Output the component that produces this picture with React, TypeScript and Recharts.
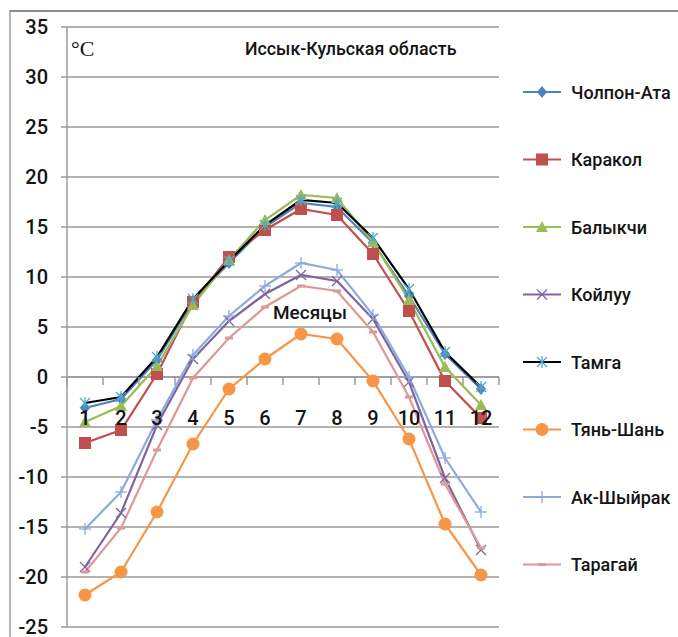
import { LineChart, Line, XAxis, YAxis, CartesianGrid, ReferenceLine, ReferenceDot } from 'recharts';

const months = [1, 2, 3, 4, 5, 6, 7, 8, 9, 10, 11, 12];
const yTicks = [-25, -20, -15, -10, -5, 0, 5, 10, 15, 20, 25, 30, 35];

const cholponAta = [-3.1, -2.2, 1.7, 7.6, 11.4, 15.0, 17.4, 17.0, 13.4, 8.1, 2.3, -1.2];
const karakol = [-6.6, -5.3, 0.3, 7.5, 12.0, 14.7, 16.8, 16.2, 12.3, 6.6, -0.4, -4.1];
const balykchi = [-4.5, -2.9, 1.1, 7.2, 11.7, 15.7, 18.2, 17.9, 13.5, 7.7, 1.0, -2.8];
const koyluu = [-19.0, -13.6, -4.8, 1.8, 5.6, 8.3, 10.2, 9.6, 5.8, -0.5, -10.1, -17.3];
const tamga = [-2.6, -2.0, 2.0, 7.8, 11.6, 15.2, 17.7, 17.4, 13.9, 8.8, 2.5, -1.0];
const tianShan = [-21.8, -19.5, -13.5, -6.7, -1.2, 1.8, 4.3, 3.8, -0.4, -6.2, -14.7, -19.8];
const akShyirak = [-15.2, -11.5, -4.3, 2.2, 6.1, 9.1, 11.4, 10.7, 6.2, 0.0, -8.1, -13.5];
const taragai = [-19.5, -15.1, -7.3, -0.1, 3.9, 7.0, 9.1, 8.6, 4.5, -2.0, -10.7, -17.1];

const seriesList = [
  { key: 'cholponAta', name: 'Чолпон-Ата', values: cholponAta, line: '#4F81BD', mark: '#4F81BD', shape: 'diamond' },
  { key: 'karakol', name: 'Каракол', values: karakol, line: '#C0504D', mark: '#C0504D', shape: 'square' },
  { key: 'balykchi', name: 'Балыкчи', values: balykchi, line: '#9BBB59', mark: '#9BBB59', shape: 'triangle' },
  { key: 'koyluu', name: 'Койлуу', values: koyluu, line: '#8064A2', mark: '#8064A2', shape: 'x' },
  { key: 'tamga', name: 'Тамга', values: tamga, line: '#000000', mark: '#4BACC6', shape: 'star' },
  { key: 'tianShan', name: 'Тянь-Шань', values: tianShan, line: '#F79646', mark: '#F79646', shape: 'circle' },
  { key: 'akShyirak', name: 'Ак-Шыйрак', values: akShyirak, line: '#8FAADC', mark: '#8FAADC', shape: 'plus' },
  { key: 'taragai', name: 'Тарагай', values: taragai, line: '#DE9896', mark: '#DE9896', shape: 'dash' },
];

const data = months.map((m, i) => {
  const row: Record<string, number> = { month: m };
  seriesList.forEach((s) => {
    row[s.key] = s.values[i];
  });
  return row;
});

const W = 678;
const H = 637;
const MARGIN = { top: 27, right: 179, bottom: 10, left: 0 };
const Y_AXIS_W = 67;
const Y_MIN = -25;
const Y_MAX = 35;
const PLOT_W = W - MARGIN.right - MARGIN.left - Y_AXIS_W;
const BAND = PLOT_W / months.length;

const FONT = 'Roboto, "Noto Sans", sans-serif';
const GRID = '#9a9a9a';
const INK = '#141414';

function Marker({ shape, cx, cy, color }: { shape: string; cx: number; cy: number; color: string }) {
  switch (shape) {
    case 'diamond':
      return <polygon points={`${cx},${cy - 6} ${cx + 5},${cy} ${cx},${cy + 6} ${cx - 5},${cy}`} fill={color} />;
    case 'square':
      return <rect x={cx - 6} y={cy - 6} width={12} height={12} fill={color} />;
    case 'triangle':
      return <polygon points={`${cx},${cy - 6} ${cx + 6},${cy + 5} ${cx - 6},${cy + 5}`} fill={color} />;
    case 'x':
      return (
        <g stroke={color} strokeWidth={1.3}>
          <line x1={cx - 5} y1={cy - 5} x2={cx + 5} y2={cy + 5} />
          <line x1={cx - 5} y1={cy + 5} x2={cx + 5} y2={cy - 5} />
        </g>
      );
    case 'star':
      return (
        <g stroke={color} strokeWidth={1.3}>
          <line x1={cx - 5} y1={cy - 5} x2={cx + 5} y2={cy + 5} />
          <line x1={cx - 5} y1={cy + 5} x2={cx + 5} y2={cy - 5} />
          <line x1={cx} y1={cy - 6} x2={cx} y2={cy + 6} />
        </g>
      );
    case 'circle':
      return <circle cx={cx} cy={cy} r={6.5} fill={color} />;
    case 'plus':
      return (
        <g stroke={color} strokeWidth={1.3}>
          <line x1={cx - 6} y1={cy} x2={cx + 6} y2={cy} />
          <line x1={cx} y1={cy - 6} x2={cx} y2={cy + 6} />
        </g>
      );
    default:
      return <rect x={cx - 4} y={cy - 1.5} width={8} height={3} fill={color} />;
  }
}

const makeDot = (shape: string, color: string, name: string) => (props: any) => {
  const { cx, cy, index } = props;
  if (cx == null || cy == null) return <g key={`${name}-${index}`} />;
  return (
    <g key={`${name}-${index}`}>
      <Marker shape={shape} cx={cx} cy={cy} color={color} />
    </g>
  );
};

// category axis crossing at 0: tick marks between months and the month number below
const makeMonthMark = (month: number, last: boolean) => (props: any) => {
  const { cx, cy } = props;
  if (cx == null || cy == null) return <g />;
  return (
    <g>
      <line x1={cx - BAND / 2} y1={cy} x2={cx - BAND / 2} y2={cy + 8} stroke={GRID} strokeWidth={1.5} />
      {last && <line x1={cx + BAND / 2} y1={cy} x2={cx + BAND / 2} y2={cy + 8} stroke={GRID} strokeWidth={1.5} />}
      <text x={cx} y={cy + 41} textAnchor="middle" dominantBaseline="central" fontSize={20} fontFamily={FONT} fontWeight={500} fill={INK}>
        {month}
      </text>
    </g>
  );
};

export default function App() {
  return (
    <div style={{ position: 'absolute', left: 0, top: 0, width: W, height: H, background: '#fff', overflow: 'hidden' }}>
      <div
        style={{
          position: 'absolute',
          left: 9,
          top: 10,
          width: W,
          height: H,
          borderTop: '2px solid #8c8c8c',
          borderLeft: '2px solid #b4b4b4',
        }}
      />
      <div style={{ position: 'absolute', left: 0, top: 0 }}>
        <LineChart width={W} height={H} data={data} margin={MARGIN}>
          <CartesianGrid vertical={false} stroke={GRID} strokeWidth={1.5} />
          <XAxis dataKey="month" hide padding={{ left: BAND / 2, right: BAND / 2 }} />
          <YAxis
            type="number"
            domain={[Y_MIN, Y_MAX]}
            ticks={yTicks}
            interval={0}
            width={Y_AXIS_W}
            axisLine={{ stroke: GRID, strokeWidth: 1.5 }}
            tickLine={{ stroke: GRID, strokeWidth: 1.5 }}
            tickSize={6}
            tickMargin={13}
            tick={{ fontSize: 20, fontFamily: FONT, fontWeight: 500, fill: INK }}
          />
          <ReferenceLine y={0} stroke={GRID} strokeWidth={1.5} />
          {seriesList.map((s) => (
            <Line
              key={s.key}
              type="linear"
              dataKey={s.key}
              name={s.name}
              stroke={s.line}
              strokeWidth={2.2}
              dot={makeDot(s.shape, s.mark, s.key)}
              activeDot={false}
              isAnimationActive={false}
            />
          ))}
          {months.map((m, i) => (
            <ReferenceDot
              key={`m-${m}`}
              x={m}
              y={0}
              r={0}
              shape={makeMonthMark(m, i === months.length - 1)}
              isFront
            />
          ))}
        </LineChart>
      </div>
      <svg width={W} height={H} style={{ position: 'absolute', left: 0, top: 0, pointerEvents: 'none' }}>
        <text x={71} y={56} fontFamily='"Liberation Serif", serif' fontSize={22} fill={INK}>
          °C
        </text>
        <text x={245} y={55} fontFamily={FONT} fontSize={17.8} fontWeight={500} fill={INK}>
          Иссык-Кульская область
        </text>
        <text x={273} y={319} fontFamily={FONT} fontSize={19} fontWeight={500} fill={INK}>
          Месяцы
        </text>
        {seriesList.map((s, i) => {
          const cy = 92 + i * 67.5;
          return (
            <g key={s.key}>
              <line x1={523} y1={cy} x2={561} y2={cy} stroke={s.line} strokeWidth={2} />
              <Marker shape={s.shape} cx={542} cy={cy} color={s.mark} />
              <text x={571} y={cy} dominantBaseline="central" fontFamily={FONT} fontSize={18} fontWeight={500} fill={INK}>
                {s.name}
              </text>
            </g>
          );
        })}
      </svg>
    </div>
  );
}
